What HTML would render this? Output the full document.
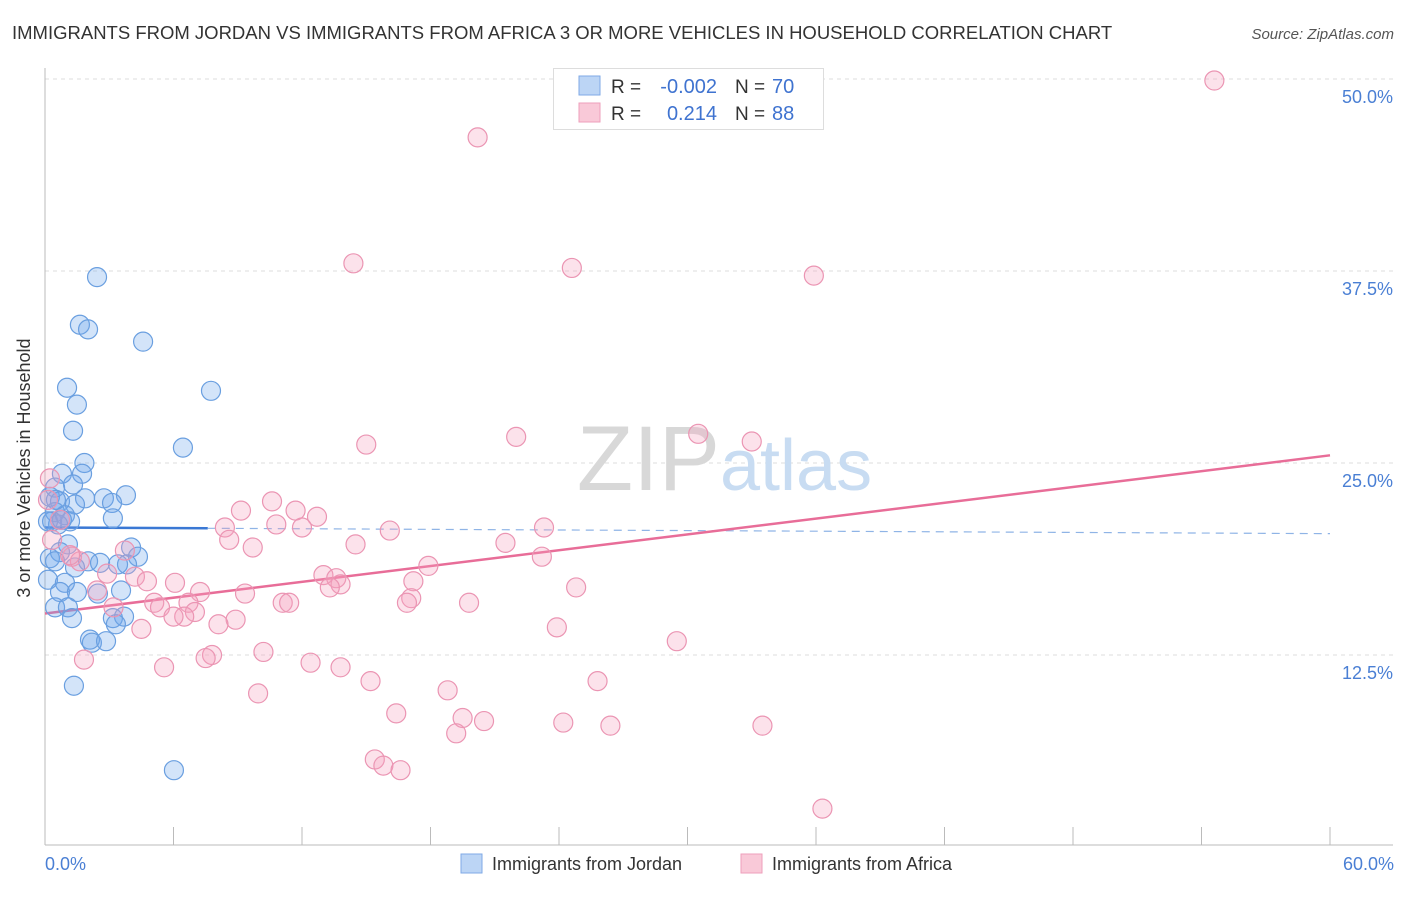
<!DOCTYPE html>
<html><head><meta charset="utf-8"><style>
body{margin:0;background:#fff;font-family:"Liberation Sans",sans-serif;}
svg text{font-family:"Liberation Sans",sans-serif;}
</style></head><body>
<svg id="chart" width="1406" height="892" viewBox="0 0 1406 892">
<text x="12" y="39" font-size="18.5" fill="#333">IMMIGRANTS FROM JORDAN VS IMMIGRANTS FROM AFRICA 3 OR MORE VEHICLES IN HOUSEHOLD CORRELATION CHART</text>
<text x="1394" y="39" font-size="15" font-style="italic" fill="#555" text-anchor="end">Source: ZipAtlas.com</text>
<g id="grid"></g>
<text x="720" y="490" font-size="92" font-family="Liberation Serif" fill="#d8d8d8" text-anchor="end">ZIP</text>
<text x="720" y="490" font-size="72" fill="#c8dcf2">atlas</text>
<line x1="45" y1="68" x2="45" y2="845" stroke="#bbb"/>
<line x1="45" y1="845" x2="1393" y2="845" stroke="#bbb"/>
<g id="xticks"></g>
<g id="trend"></g>
<g id="pts-blue"></g>
<g id="pts-pink"></g>
<text x="18" y="456" font-size="18" fill="#333" text-anchor="middle" transform="rotate(-90 30 456)">3 or more Vehicles in Household</text>
<text x="45" y="870" font-size="18" fill="#4a7fd4">0.0%</text>
<text x="1394" y="870" font-size="18" fill="#4a7fd4" text-anchor="end">60.0%</text>
<g>
<rect x="553.5" y="68.5" width="270" height="61" fill="#fff" stroke="#ddd"/>
<rect x="579" y="76" width="21" height="19" fill="#bcd5f5" stroke="#7fa9e6"/>
<rect x="579" y="103" width="21" height="19" fill="#f9c9d8" stroke="#ee9fbb"/>
<text x="611" y="93" font-size="19" fill="#333">R =</text>
<text x="717" y="93" font-size="20" fill="#3f73d0" text-anchor="end">-0.002</text>
<text x="735" y="93" font-size="19" fill="#333">N =</text>
<text x="772" y="93" font-size="20" fill="#3f73d0">70</text>
<text x="611" y="120" font-size="19" fill="#333">R =</text>
<text x="717" y="120" font-size="20" fill="#3f73d0" text-anchor="end">0.214</text>
<text x="735" y="120" font-size="19" fill="#333">N =</text>
<text x="772" y="120" font-size="20" fill="#3f73d0">88</text>
</g>
<g>
<rect x="461" y="854" width="21" height="19" fill="#bcd5f5" stroke="#7fa9e6"/>
<text x="492" y="870" font-size="18" fill="#333">Immigrants from Jordan</text>
<rect x="741" y="854" width="21" height="19" fill="#f9c9d8" stroke="#ee9fbb"/>
<text x="772" y="870" font-size="18" fill="#333">Immigrants from Africa</text>
</g>
</svg>
<script>
const yTicks=[12.5,25,37.5,50];
const yTickLabels=["12.5%","25.0%","37.5%","50.0%"];
const xTicks=[0,6,12,18,24,30,36,42,48,54,60];
const jordanX=[2.43,1.63,2.01,4.58,1.03,7.75,1.49,1.31,6.44,1.84,0.79,1.73,0.47,1.31,1.87,2.75,3.78,0.23,0.70,1.40,3.13,0.47,0.93,3.17,0.33,1.17,0.61,1.07,0.70,0.23,4.02,4.34,0.47,2.01,2.57,3.83,3.41,1.40,0.14,0.93,0.70,1.49,2.47,3.55,0.47,1.07,1.26,3.17,3.69,3.31,2.10,2.19,2.85,1.35,6.02,0.14,0.51,0.79];
const jordanY=[37.1,34.0,33.7,32.9,29.9,29.7,28.8,27.1,26.0,25.0,24.3,24.3,23.4,23.6,22.7,22.7,22.9,22.8,22.5,22.3,22.4,21.8,21.6,21.4,21.2,21.2,21.0,19.7,19.2,18.8,19.5,18.9,18.6,18.6,18.5,18.4,18.4,18.2,17.4,17.2,16.6,16.6,16.5,16.7,15.6,15.6,14.9,14.9,15.0,14.5,13.5,13.3,13.4,10.5,5.0,21.2,22.6,21.3];
const africaX=[54.6,20.2,14.4,24.6,35.9,22.0,15.0,30.5,33.0,0.23,10.6,9.15,11.7,12.7,10.8,12.0,16.1,23.3,8.4,8.6,14.5,21.5,9.7,3.73,23.2,1.26,1.63,17.9,4.2,2.9,13.0,13.6,4.76,6.07,17.2,13.8,13.3,24.8,2.43,7.24,9.34,17.1,11.1,11.4,16.9,19.8,5.1,6.7,5.37,3.2,7.0,6.5,6.0,8.9,8.1,4.5,23.9,29.5,10.2,7.8,7.5,1.82,12.4,13.8,5.56,15.2,25.8,18.8,9.95,16.4,19.5,20.5,24.2,26.4,33.5,19.2,15.4,15.8,16.6,36.3,0.14,0.7,0.33,1.17];
const africaY=[49.9,46.2,38.0,37.7,37.2,26.7,26.2,26.9,26.4,24.0,22.5,21.9,21.9,21.5,21.0,20.8,20.6,20.8,20.8,20.0,19.7,19.8,19.5,19.3,18.9,18.9,18.6,18.3,17.6,17.8,17.7,17.5,17.3,17.2,17.3,17.1,16.9,16.9,16.7,16.6,16.5,16.2,15.9,15.9,15.9,15.9,15.9,15.9,15.6,15.6,15.3,15.0,15.0,14.8,14.5,14.2,14.3,13.4,12.7,12.5,12.3,12.2,12.0,11.7,11.7,10.8,10.8,10.2,10.0,8.7,8.4,8.2,8.1,7.9,7.9,7.4,5.7,5.3,5.0,2.5,22.6,21.3,20.0,19.0];
const jordanTrend=[20.8,20.4];
const africaTrend=[15.2,25.5];
const NS="http://www.w3.org/2000/svg";
function sx(v){return 45+v/60*1285;}
function sy(v){return 847-v/50*768;}
function mk(tag,attrs,parent){const e=document.createElementNS(NS,tag);for(const k in attrs)e.setAttribute(k,attrs[k]);parent.appendChild(e);return e;}
const grid=document.getElementById('grid');
yTicks.forEach((t,i)=>{
 const l=mk('line',{x1:45,x2:1393,y1:sy(t),y2:sy(t),stroke:'#ddd','stroke-dasharray':'4,4'},grid);
 
 
 const tx=mk('text',{x:1393,y:sy(t)+24,'font-size':18,fill:'#4a7fd4','text-anchor':'end'},grid);
 tx.textContent=yTickLabels[i];
 
 
});
const xt=document.getElementById('xticks');
xTicks.forEach(t=>{
 const l=mk('line',{x1:sx(t),x2:sx(t),y1:827,y2:845,stroke:'#bbb'},xt);
 
 
});
const tr=document.getElementById('trend');
let a=mk('line',{x1:sx(0),y1:sy(jordanTrend[0]),x2:sx(7.6),y2:sy(jordanTrend[0]+(jordanTrend[1]-jordanTrend[0])*7.6/60),stroke:'#3a78d4','stroke-width':2.5},tr);


a=mk('line',{x1:sx(7.6),y1:sy(jordanTrend[0]+(jordanTrend[1]-jordanTrend[0])*7.6/60),x2:sx(60),y2:sy(jordanTrend[1]),stroke:'#8fb4e6','stroke-width':1.2,'stroke-dasharray':'8,6'},tr);


a=mk('line',{x1:sx(0),y1:sy(africaTrend[0]),x2:sx(60),y2:sy(africaTrend[1]),stroke:'#e86d98','stroke-width':2.5},tr);


const gb=document.getElementById('pts-blue');
jordanX.forEach((x,i)=>{
 const c=mk('circle',{cx:sx(x),cy:sy(jordanY[i]),r:9.5,fill:'rgba(110,165,235,0.3)',stroke:'#6a9fe0','stroke-width':1.2},gb);
 
 
});
const gp=document.getElementById('pts-pink');
africaX.forEach((x,i)=>{
 const c=mk('circle',{cx:sx(x),cy:sy(africaY[i]),r:9.5,fill:'rgba(245,160,190,0.3)',stroke:'#eb95b3','stroke-width':1.2},gp);
 
 
});
</script>
</body></html>
